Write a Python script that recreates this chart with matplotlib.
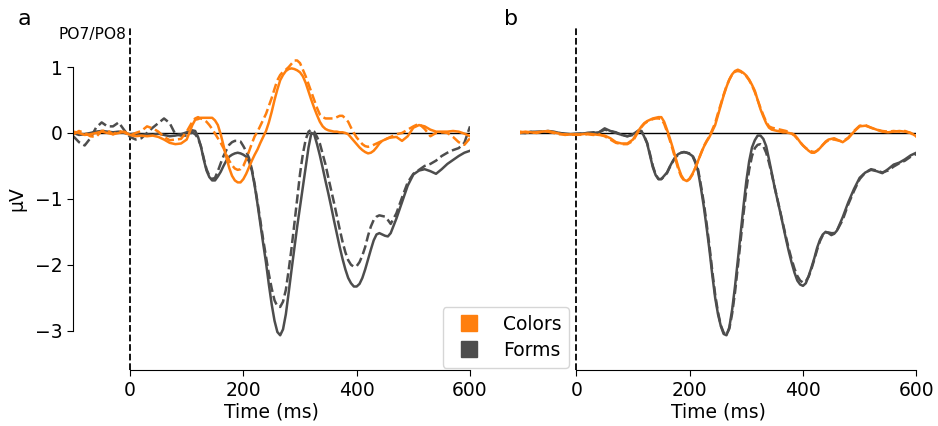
import numpy as np
import matplotlib
matplotlib.use('Agg')
import matplotlib.pyplot as plt
from matplotlib.lines import Line2D

# time axis (ms): 10 ms steps, 5 ms steps around the components
times = np.concatenate([np.arange(-100, 110, 10),
                        np.arange(110, 465, 5),
                        np.arange(470, 610, 10)])

# panel a, PO7/PO8 (solid / dashed)
forms_a = [0.00, -0.03, -0.02, 0.00, 0.02, 0.03, 0.02, 0.01, 0.02, 0.00,
           -0.02, -0.01, -0.03, -0.02, -0.03, -0.01, -0.03, -0.05, -0.04, -0.02, 0.01,
           # 110 - 460 ms
           0.04, 0.03, -0.06, -0.20, -0.40, -0.57, -0.67, -0.72, -0.72, -0.66,
           -0.59, -0.50, -0.42, -0.36, -0.33, -0.31, -0.30, -0.31, -0.33, -0.36,
           -0.43, -0.57, -0.80, -1.08, -1.38, -1.68, -1.97, -2.30, -2.60, -2.85,
           -3.02, -3.07, -2.98, -2.75, -2.42, -2.08, -1.75, -1.42, -1.12, -0.82,
           -0.52, -0.22, 0.00, -0.02, -0.17, -0.34, -0.53, -0.73, -0.92, -1.12,
           -1.33, -1.53, -1.73, -1.91, -2.07, -2.20, -2.28, -2.33, -2.33, -2.29,
           -2.20, -2.07, -1.92, -1.77, -1.63, -1.54, -1.52, -1.54, -1.56, -1.57,
           -1.52,
           # 470 - 600 ms
           -1.30, -1.05, -0.80, -0.63, -0.57, -0.55, -0.58, -0.62, -0.55, -0.47,
           -0.41, -0.35, -0.30, -0.27]
forms_a_dash = [-0.05, -0.14, -0.19, -0.08, 0.08, 0.16, 0.10, 0.10, 0.16, 0.04,
                -0.06, -0.10, -0.08, 0.00, 0.08, 0.15, 0.22, 0.15, -0.02, -0.04, -0.04,
                0.01, -0.02, -0.08, -0.20, -0.38, -0.55, -0.65, -0.70, -0.68, -0.58,
                -0.46, -0.35, -0.26, -0.18, -0.14, -0.12, -0.12, -0.13, -0.20, -0.28,
                -0.38, -0.55, -0.78, -1.05, -1.33, -1.62, -1.88, -2.14, -2.36, -2.54,
                -2.63, -2.64, -2.56, -2.38, -2.08, -1.75, -1.38, -1.00, -0.62, -0.32,
                -0.10, 0.02, 0.05, 0.02, -0.06, -0.16, -0.32, -0.48, -0.68, -0.87,
                -1.06, -1.26, -1.46, -1.65, -1.81, -1.93, -2.00, -2.03, -2.02, -1.96,
                -1.86, -1.73, -1.56, -1.42, -1.32, -1.27, -1.25, -1.26, -1.27, -1.32,
                -1.38,
                -1.22, -0.98, -0.75, -0.62, -0.56, -0.50, -0.47, -0.42, -0.35, -0.30,
                -0.26, -0.23, -0.15, 0.10]
colors_a = [0.02, 0.00, -0.03, -0.02, 0.00, 0.02, 0.00, -0.02, 0.00, 0.02,
            -0.03, -0.05, -0.04, -0.05, -0.04, -0.06, -0.10, -0.15, -0.17, -0.16, -0.10,
            0.12, 0.20, 0.21, 0.23, 0.23, 0.23, 0.23, 0.23, 0.19, 0.12,
            -0.02, -0.19, -0.37, -0.53, -0.65, -0.72, -0.75, -0.75, -0.70, -0.62,
            -0.52, -0.42, -0.33, -0.25, -0.15, -0.06, 0.03, 0.16, 0.32, 0.50,
            0.66, 0.80, 0.88, 0.94, 0.97, 0.98, 0.97, 0.95, 0.92, 0.86,
            0.76, 0.63, 0.50, 0.38, 0.27, 0.17, 0.10, 0.06, 0.04, 0.03,
            0.02, 0.02, 0.01, 0.01, 0.00, -0.02, -0.07, -0.12, -0.17, -0.22,
            -0.26, -0.29, -0.31, -0.30, -0.27, -0.22, -0.16, -0.12, -0.10, -0.08,
            -0.07,
            -0.06, -0.12, -0.05, 0.08, 0.12, 0.10, 0.05, 0.02, 0.02, 0.02,
            0.03, 0.02, -0.01, -0.05]
colors_a_dash = [-0.02, 0.03, 0.00, -0.05, -0.06, 0.03, 0.04, -0.02, 0.03, 0.01,
                 -0.04, 0.00, 0.03, 0.10, 0.07, 0.02, -0.06, -0.11, -0.10, -0.09, 0.02,
                 0.17, 0.22, 0.24, 0.22, 0.20, 0.17, 0.12, 0.06, -0.01, -0.08,
                 -0.15, -0.23, -0.33, -0.42, -0.49, -0.54, -0.56, -0.55, -0.50, -0.40,
                 -0.28, -0.16, -0.05, 0.02, 0.11, 0.20, 0.29, 0.41, 0.53, 0.67,
                 0.80, 0.88, 0.93, 0.96, 1.00, 1.05, 1.10, 1.10, 1.06, 0.96,
                 0.86, 0.74, 0.62, 0.50, 0.38, 0.28, 0.24, 0.22, 0.22, 0.22,
                 0.22, 0.24, 0.26, 0.26, 0.22, 0.17, 0.08, 0.00, -0.07, -0.12,
                 -0.17, -0.20, -0.21, -0.20, -0.18, -0.16, -0.14, -0.12, -0.10, -0.08,
                 -0.06,
                 -0.02, 0.00, 0.05, 0.10, 0.14, 0.06, -0.05, 0.00, 0.01, 0.00,
                 -0.06, -0.14, -0.18, -0.08]

# panel b
forms_b = [0.00, 0.00, 0.02, 0.01, 0.02, 0.03, 0.02, 0.00, -0.01, -0.02,
           -0.01, -0.01, 0.00, 0.00, 0.01, 0.07, 0.03, 0.01, -0.03, -0.05, -0.02,
           0.04, 0.03, -0.06, -0.16, -0.34, -0.52, -0.64, -0.70, -0.70, -0.65,
           -0.60, -0.51, -0.43, -0.36, -0.32, -0.30, -0.29, -0.30, -0.32, -0.35,
           -0.45, -0.59, -0.84, -1.12, -1.44, -1.78, -2.16, -2.50, -2.75, -2.93,
           -3.05, -3.07, -2.95, -2.68, -2.33, -1.93, -1.52, -1.11, -0.73, -0.43,
           -0.22, -0.11, -0.04, -0.04, -0.09, -0.20, -0.40, -0.61, -0.83, -1.02,
           -1.21, -1.41, -1.61, -1.80, -1.97, -2.12, -2.24, -2.30, -2.32, -2.28,
           -2.17, -2.04, -1.90, -1.74, -1.62, -1.54, -1.50, -1.52, -1.55, -1.53,
           -1.48,
           -1.28, -1.05, -0.85, -0.68, -0.60, -0.56, -0.58, -0.61, -0.55, -0.48,
           -0.45, -0.40, -0.34, -0.30]
forms_b_dash = [0.01, 0.00, 0.01, 0.02, 0.02, 0.02, 0.01, 0.00, -0.02, -0.02,
                -0.02, -0.01, 0.00, 0.01, 0.01, 0.05, 0.03, 0.00, -0.03, -0.05, -0.03,
                0.03, 0.02, -0.05, -0.15, -0.32, -0.50, -0.63, -0.70, -0.70, -0.66,
                -0.61, -0.52, -0.44, -0.37, -0.33, -0.30, -0.29, -0.30, -0.31, -0.34,
                -0.43, -0.56, -0.80, -1.06, -1.38, -1.72, -2.10, -2.45, -2.72, -2.92,
                -3.03, -3.06, -2.97, -2.74, -2.42, -2.03, -1.63, -1.23, -0.86, -0.56,
                -0.35, -0.23, -0.18, -0.17, -0.20, -0.30, -0.45, -0.63, -0.82, -1.01,
                -1.20, -1.39, -1.58, -1.76, -1.92, -2.06, -2.17, -2.24, -2.27, -2.25,
                -2.18, -2.06, -1.92, -1.77, -1.64, -1.55, -1.51, -1.51, -1.52, -1.52,
                -1.48,
                -1.32, -1.08, -0.88, -0.70, -0.60, -0.55, -0.57, -0.60, -0.57, -0.51,
                -0.46, -0.42, -0.36, -0.32]
colors_b = [0.00, 0.02, 0.01, 0.00, 0.02, 0.03, 0.01, -0.01, -0.03, -0.02,
            -0.03, -0.02, -0.01, -0.02, -0.03, -0.04, -0.08, -0.14, -0.16, -0.16, -0.10,
            0.04, 0.10, 0.15, 0.18, 0.20, 0.22, 0.23, 0.24, 0.24, 0.17,
            0.05, -0.08, -0.22, -0.37, -0.52, -0.64, -0.71, -0.73, -0.69, -0.62,
            -0.53, -0.42, -0.31, -0.21, -0.13, -0.06, 0.03, 0.12, 0.27, 0.42,
            0.57, 0.70, 0.81, 0.89, 0.94, 0.96, 0.94, 0.91, 0.87, 0.81,
            0.73, 0.64, 0.50, 0.36, 0.25, 0.15, 0.08, 0.05, 0.04, 0.03,
            0.02, 0.01, 0.01, 0.00, -0.01, -0.03, -0.08, -0.14, -0.19, -0.23,
            -0.27, -0.30, -0.30, -0.27, -0.23, -0.18, -0.13, -0.10, -0.09, -0.08,
            -0.10,
            -0.14, -0.08, 0.02, 0.10, 0.11, 0.08, 0.05, 0.02, 0.01, 0.02,
            0.03, 0.02, 0.00, -0.05]
colors_b_dash = [0.02, 0.01, 0.00, 0.01, 0.02, 0.02, 0.00, -0.02, -0.02, -0.03,
                 -0.02, -0.03, -0.02, -0.03, -0.02, -0.05, -0.10, -0.15, -0.17, -0.17, -0.12,
                 0.03, 0.09, 0.14, 0.17, 0.19, 0.21, 0.22, 0.22, 0.21, 0.14,
                 0.02, -0.11, -0.25, -0.40, -0.55, -0.66, -0.72, -0.73, -0.70, -0.63,
                 -0.53, -0.42, -0.31, -0.20, -0.12, -0.05, 0.05, 0.15, 0.30, 0.44,
                 0.58, 0.71, 0.81, 0.89, 0.93, 0.94, 0.93, 0.90, 0.86, 0.80,
                 0.72, 0.62, 0.50, 0.38, 0.27, 0.17, 0.10, 0.08, 0.07, 0.06,
                 0.05, 0.04, 0.03, 0.01, -0.01, -0.04, -0.09, -0.14, -0.19, -0.23,
                 -0.26, -0.28, -0.29, -0.27, -0.23, -0.18, -0.14, -0.11, -0.10, -0.10,
                 -0.11,
                 -0.13, -0.07, 0.03, 0.11, 0.12, 0.08, 0.05, 0.03, 0.02, 0.03,
                 0.02, 0.03, 0.00, -0.06]

orange = '#ff7f0e'
grey = '#4d4d4d'
fs = 13.5

fig = plt.figure(figsize=(9.38, 4.26), dpi=100)
ax_a = fig.add_axes([0.0782, 0.131, 0.4229, 0.8044])
ax_b = fig.add_axes([0.554, 0.131, 0.4229, 0.8044], sharey=ax_a)

panels = [(ax_a, colors_a, colors_a_dash, forms_a, forms_a_dash),
          (ax_b, colors_b, colors_b_dash, forms_b, forms_b_dash)]

for ax, c_sol, c_dash, f_sol, f_dash in panels:
    ax.axhline(0, color='black', lw=1.0, zorder=1)
    ax.axvline(0, color='black', lw=1.3, ls='--', zorder=1)
    ax.plot(times, f_dash, color=grey, lw=1.8, ls='--')
    ax.plot(times, f_sol, color=grey, lw=1.8)
    ax.plot(times, c_dash, color=orange, lw=1.8, ls='--')
    ax.plot(times, c_sol, color=orange, lw=1.8)
    ax.set_xlim(-100, 600)
    ax.set_ylim(-3.6, 1.6)
    ax.set_xticks([0, 200, 400, 600])
    ax.set_xlabel('Time (ms)', fontsize=fs, labelpad=2)
    ax.tick_params(labelsize=fs, length=4.2)
    ax.spines['top'].set_visible(False)
    ax.spines['right'].set_visible(False)
    ax.spines['bottom'].set_bounds(0, 600)

ax_a.set_yticks([-3, -2, -1, 0, 1])
ax_a.spines['left'].set_bounds(-3, 1)
ax_a.set_ylabel('µV', fontsize=fs, labelpad=6)
ax_a.text(-6, 1.5, 'PO7/PO8', ha='right', va='center', fontsize=11.2)

ax_b.spines['left'].set_visible(False)
ax_b.tick_params(axis='y', left=False, labelleft=False)

fig.text(0.019, 0.941, 'a', fontsize=16, va='baseline')
fig.text(0.537, 0.941, 'b', fontsize=16, va='baseline')

handles = [Line2D([], [], marker='s', ls='none', color=orange, markersize=12),
           Line2D([], [], marker='s', ls='none', color=grey, markersize=12)]
fig.legend(handles, ['Colors', 'Forms'], loc='upper left',
           bbox_to_anchor=(442.7 / 938, 1 - 307 / 426), borderaxespad=0,
           fontsize=fs, handlelength=2.0, handletextpad=0.82, labelspacing=0.4)

fig.savefig('out.png', dpi=100)
